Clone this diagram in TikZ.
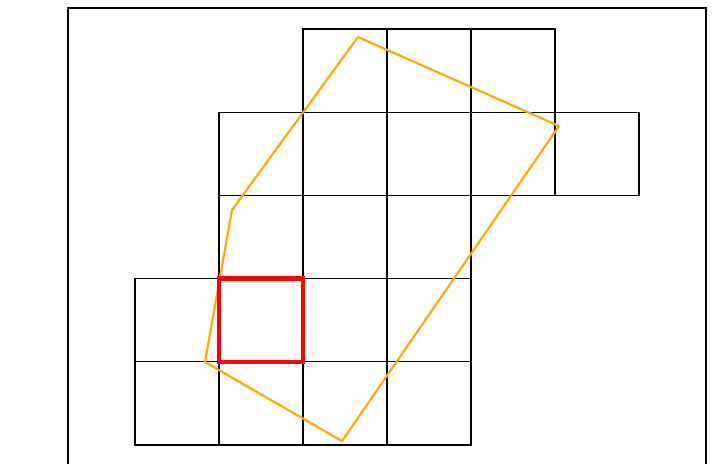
\documentclass[tikz,border=0pt]{standalone}
\usepackage{tikz}

\definecolor{polyorange}{RGB}{255,170,0}

\begin{document}
\begin{tikzpicture}[x=84pt,y=83.2pt]
    \useasboundingbox (-1.607,-0.216) rectangle (6.976,5.349);
    \draw[line width=2pt] (-0.798,-0.6) rectangle (6.798,5.252);
    \foreach \y/\xa/\xb in {0/0/3,1/0/3,2/1/3,3/1/5,4/2/4}
        \foreach \x in {\xa,...,\xb} \draw[line width=1.2pt] (\x,\y) rectangle ++(1,1);
    \draw[polyorange, line width=2.2pt, line join=round] (2.655,4.904) -- (5.048,3.834) -- (2.464,0.048) -- (0.833,0.998) -- (1.155,2.825) -- cycle;
    \draw[red, line width=4.5pt] (1,1) rectangle (2,2);
\end{tikzpicture}
\end{document}
